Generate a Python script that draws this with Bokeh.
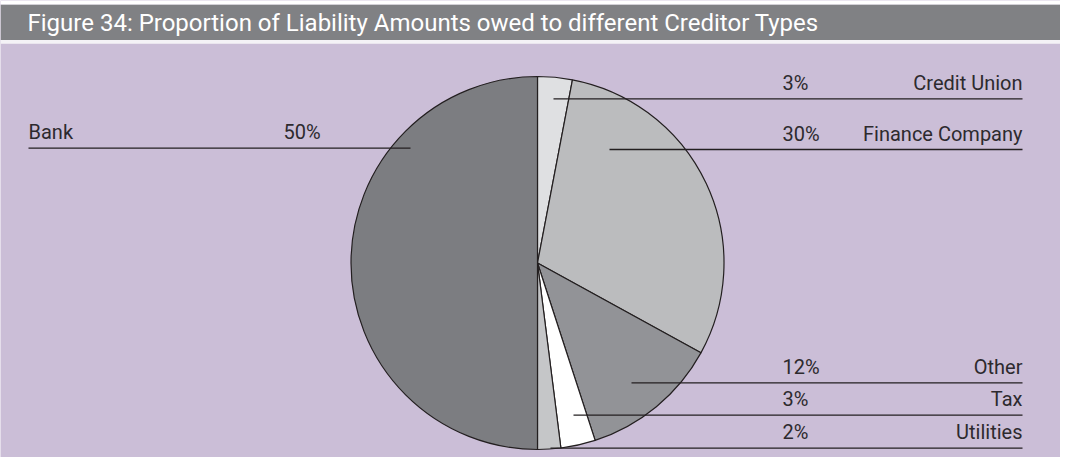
import math
from bokeh.plotting import figure
from bokeh.models import Range1d, ColumnDataSource
from bokeh.core.properties import value
from bokeh.embed import file_html
from bokeh.resources import INLINE

# ---- data (clockwise from 12 o'clock) ----
categories = ["Credit Union", "Finance Company", "Other", "Tax", "Utilities", "Bank"]
shares = [3, 30, 12, 3, 2, 50]
colors = ["#dfe0e2", "#bbbcbe", "#929397", "#ffffff", "#c5c6c8", "#7c7d81"]
title_text = "Figure 34: Proportion of Liability Amounts owed to different Creditor Types"

# ---- layout (screen pixels of the picture) ----
W, H = 1060, 457
X0, Y0 = 0, 0
def sy(y):                     # screen y -> data y
    return 473 - y

CX, CY, R = 537.0, 262.5, 186.5
label_line_y = [98.3, 149.0, 382.3, 414.7, 447.7, 147.7]
label_anchor_x = [553, 609, 631, 573, 550, 410]
label_side = ["right", "right", "right", "right", "right", "left"]
RIGHT_END, PCT_X_RIGHT = 1022, 782
LEFT_END, PCT_X_LEFT = 28, 283
TEXT_DY = 16.0
TITLE_BASELINE = 22.0

p = figure(width=W, height=H, output_backend="svg", toolbar_location=None,
           x_range=Range1d(X0, X0 + W), y_range=Range1d(473 - (Y0 + H), 473 - Y0),
           min_border=0, outline_line_color=None)
p.axis.visible = False
p.grid.visible = False
p.background_fill_color = "#cbbed7"
p.border_fill_color = "#cbbed7"

# header bar
p.quad(left=[X0], right=[X0 + W], top=[sy(4)], bottom=[sy(39.5)],
       fill_color="#808184", line_color=None)
p.quad(left=[X0], right=[X0 + W], top=[sy(0)], bottom=[sy(4)],
       fill_color="#ffffff", line_color=None)
p.quad(left=[X0], right=[X0 + W], top=[sy(39.5)], bottom=[sy(43.2)],
       fill_color="#f4f2f6", line_color=None)
p.text(x=[27], y=[sy(TITLE_BASELINE)], text=[title_text], text_color="#ffffff",
       text_font=value("Roboto"), text_font_size="24px",
       text_baseline="alphabetic", text_align="left")

# pie wedges (clockwise from top)
total = float(sum(shares))
starts, ends = [], []
cum = 0.0
for s in shares:
    a0 = math.pi / 2 - 2 * math.pi * cum / total
    cum += s
    a1 = math.pi / 2 - 2 * math.pi * cum / total
    starts.append(a0)
    ends.append(a1)
src = ColumnDataSource(dict(start=starts, end=ends, color=colors, cat=categories))
p.wedge(x=CX, y=sy(CY), radius=R, start_angle="start", end_angle="end",
        direction="clock", fill_color="color", line_color="#231f20",
        line_width=1.2, source=src)

# leader lines and labels
x0s, x1s, ys = [], [], []
for cat, s, ly, ax, side in zip(categories, shares, label_line_y, label_anchor_x, label_side):
    if side == "right":
        x0s.append(ax); x1s.append(RIGHT_END)
        name_x, name_align, pct_x = RIGHT_END, "right", PCT_X_RIGHT
    else:
        x0s.append(LEFT_END); x1s.append(ax)
        name_x, name_align, pct_x = LEFT_END, "left", PCT_X_LEFT
    ys.append(sy(ly))
    p.text(x=[name_x], y=[sy(ly) + TEXT_DY], text=[cat], text_color="#2d2a2e",
           text_font=value("Roboto"), text_font_size="20px",
           text_baseline="alphabetic", text_align=name_align)
    p.text(x=[pct_x], y=[sy(ly) + TEXT_DY], text=[f"{s}%"], text_color="#2d2a2e",
           text_font=value("Roboto"), text_font_size="20px",
           text_baseline="alphabetic", text_align="left")
p.segment(x0=x0s, y0=ys, x1=x1s, y1=ys, line_color="#231f20", line_width=1.3)

open("out.html", "w").write(file_html(p, INLINE))
